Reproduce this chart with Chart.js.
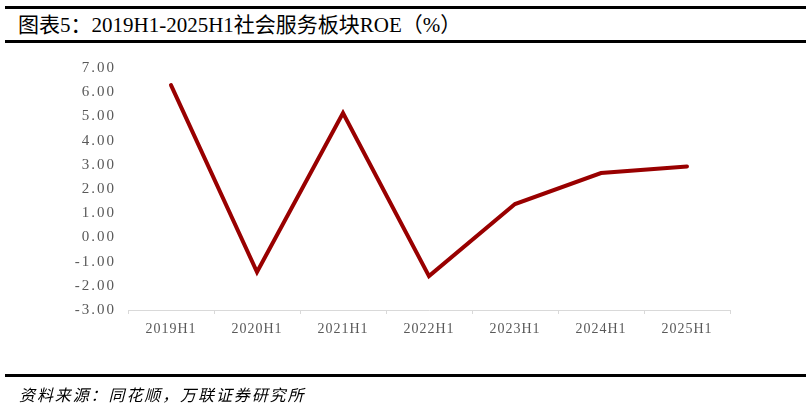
<!DOCTYPE html>
<html>
<head>
<meta charset="utf-8">
<style>
  html, body { margin: 0; padding: 0; background: #fff; }
  #wrap { position: relative; width: 811px; height: 408px; overflow: hidden; }
  .rule { position: absolute; left: 5px; width: 801px; background: #000; }
  #title {
    position: absolute; left: 18px; top: 8px; margin: 0;
    font: 21px "Liberation Serif", "Noto Sans CJK SC", serif; color: #000; white-space: nowrap;
  }
  #source {
    position: absolute; left: 19px; top: 382px; margin: 0;
    font: italic 16px "Noto Sans CJK SC", serif; letter-spacing: 1.9px; color: #000; white-space: nowrap;
  }
  #box { position: absolute; left: 0; top: 0; width: 811px; height: 408px; }
</style>
</head>
<body>
<div id="wrap">
  <div class="rule" style="top:6px;height:3px"></div>
  <p id="title">图表5：2019H1-2025H1社会服务板块ROE（%）</p>
  <div class="rule" style="top:40px;height:3px"></div>
  <div id="box"><canvas id="roeChart"></canvas></div>
  <div class="rule" style="top:374px;height:3px"></div>
  <p id="source">资料来源：同花顺，万联证券研究所</p>
</div>

<script src="https://cdn.jsdelivr.net/npm/chart.js@4.4.2/dist/chart.umd.min.js"></script>
<script>
// data
const periods = ['2019H1', '2020H1', '2021H1', '2022H1', '2023H1', '2024H1', '2025H1'];
const roeValues = [6.29, -1.43, 5.14, -1.60, 1.38, 2.66, 2.93];
const yTickMin = -3;
const yTickMax = 7;
const yTickStep = 1;

// wrap a scale's label drawing so its text gets some letter spacing
function spaceLabels(chart, scale, gap) {
    if (scale._spaced) return;
    const orig = scale.drawLabels.bind(scale);
    scale.drawLabels = function (area) {
        chart.ctx.save();
        chart.ctx.letterSpacing = gap;
        orig(area);
        chart.ctx.restore();
    };
    scale._spaced = true;
}

const spacingPlugin = {
    id: 'spacing',
    beforeDraw(chart) {
        spaceLabels(chart, chart.scales.x, '1px');
        spaceLabels(chart, chart.scales.y, '2px');
    }
};

const data = {
    labels: periods,
    datasets: [{
        label: 'ROE',
        data: roeValues,
        borderColor: '#990000',
        backgroundColor: '#990000',
        borderWidth: 4,
        borderCapStyle: 'round',
        borderJoinStyle: 'miter',
        pointRadius: 0,
        tension: 0
    }]
};

const config = {
    type: 'line',
    data,
    options: {
        responsive: false,
        animation: false,
        layout: {
            padding: { left: 0, right: 81, top: 68, bottom: 68 }
        },
        plugins: {
            legend: { display: false },
            title: { display: false },
            tooltip: { enabled: false }
        },
        scales: {
            x: {
                offset: true,
                grid: {
                    offset: true,
                    drawOnChartArea: false,
                    drawTicks: true,
                    tickLength: 4,
                    color: '#d9d9d9'
                },
                border: { display: true, color: '#d9d9d9', width: 1 },
                ticks: {
                    padding: 7,
                    maxRotation: 0,
                    color: '#595959',
                    font: { family: 'Liberation Serif', size: 14 }
                },
                afterFit(scale) { scale.height = 30; }
            },
            y: {
                min: yTickMin,
                max: yTickMax,
                grid: { display: false, drawTicks: false },
                border: { display: false },
                ticks: {
                    stepSize: yTickStep,
                    padding: 12,
                    color: '#595959',
                    font: { family: 'Liberation Serif', size: 15 },
                    callback: (v) => Number(v).toFixed(2)
                },
                afterFit(scale) { scale.width = 128; }
            }
        }
    },
    plugins: [spacingPlugin]
};

const canvas = document.getElementById('roeChart');
canvas.width = 811;
canvas.height = 408;
canvas.style.width = '811px';
canvas.style.height = '408px';
let roeChart = new Chart(canvas, config);
roeChart.draw();
</script>
</body>
</html>
